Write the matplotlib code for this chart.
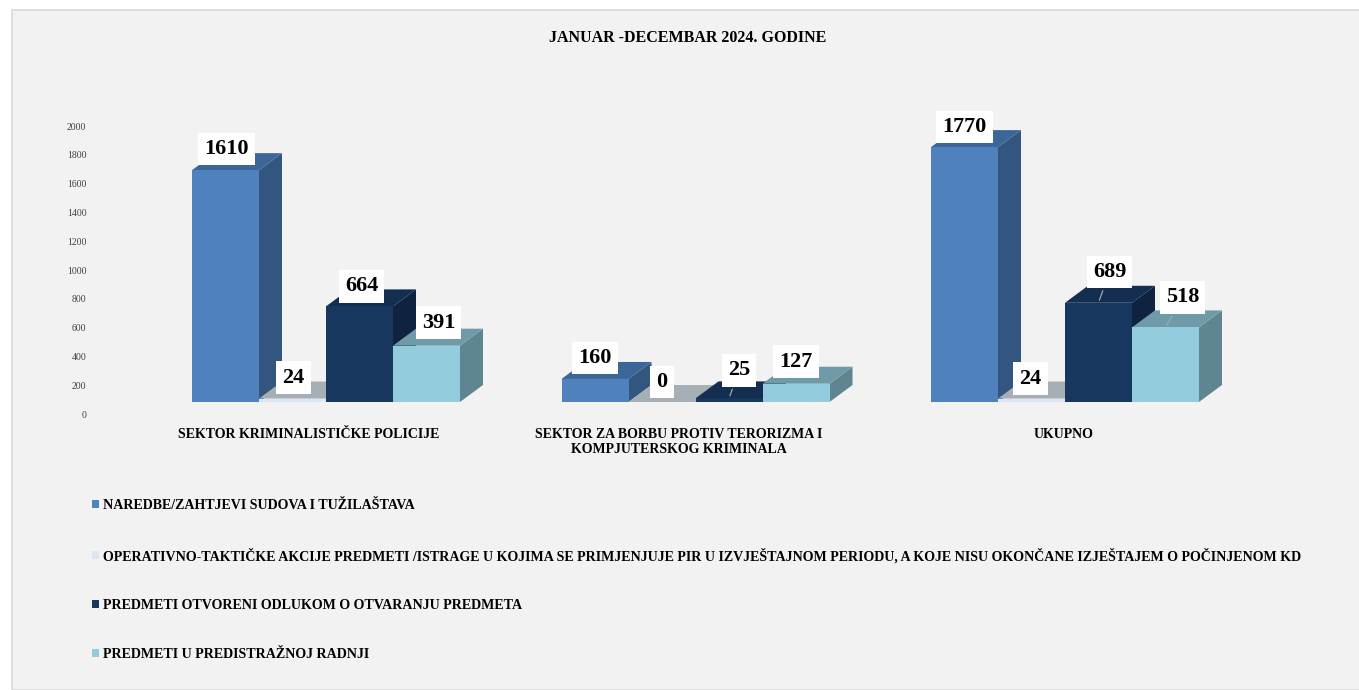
import matplotlib
matplotlib.use("Agg")
import matplotlib.pyplot as plt
import matplotlib.transforms as mtrans
from matplotlib.patches import Polygon, Patch, Rectangle

plt.rcParams['font.family'] = ['Liberation Serif', 'DejaVu Serif']

# data
title = "JANUAR -DECEMBAR 2024. GODINE"
categories = ["SEKTOR KRIMINALISTIČKE POLICIJE",
              "SEKTOR ZA BORBU PROTIV TERORIZMA I\nKOMPJUTERSKOG KRIMINALA",
              "UKUPNO"]
series_names = ["NAREDBE/ZAHTJEVI SUDOVA I TUŽILAŠTAVA",
                "OPERATIVNO-TAKTIČKE AKCIJE PREDMETI /ISTRAGE U KOJIMA SE PRIMJENJUJE PIR U IZVJEŠTAJNOM PERIODU, A KOJE NISU OKONČANE IZJEŠTAJEM O POČINJENOM KD",
                "PREDMETI OTVORENI ODLUKOM O OTVARANJU PREDMETA",
                "PREDMETI U PREDISTRAŽNOJ RADNJI"]
naredbe = [1610, 160, 1770]
operativno = [24, 0, 24]
otvoreni = [664, 25, 689]
predistrazni = [391, 127, 518]
series = [naredbe, operativno, otvoreni, predistrazni]

# colours: front, top, side
front_cols = ['#4f81bd', '#dce6f2', '#17375e', '#93cddd']
top_cols = ['#3c6698', '#a6aeb6', '#132e50', '#6e9ba7']
side_cols = ['#32567f', '#8d959c', '#0f2340', '#5f8690']

# label offsets in pixels (dx, dy) relative to front-top centre
label_off = [[(1, 21), (0, 21), (0, 20)],
             [(1, 21), (0, 20), (-1, 20)],
             [(2, 20), (10, 28), (11, 31)],
             [(12, 23), (0, 22), (17, 30)]]
leader = [[False, False, False], [False, False, False],
          [False, True, True], [False, False, True]]
cat_shift = [-17, -17, -1]  # px shift of category labels

W, H = 1359, 690
fig = plt.figure(figsize=(W / 100, H / 100), dpi=100)
fig.patch.set_facecolor('white')
fig.patches.append(Rectangle((12 / W, 0), 1, 1 - 10 / H, transform=fig.transFigure,
                             facecolor='#f2f2f2', edgecolor='#d9d9d9', lw=1.2, zorder=-10))

# axes in pixel layout
px_per_unit = 0.144
x0_px, y0_px = 326.0, 414.0
grp_px = 369.5
ax_l, ax_r, ax_t, ax_b = 92, 1340, 100, 425
ax = fig.add_axes([ax_l / W, 1 - ax_b / H, (ax_r - ax_l) / W, (ax_b - ax_t) / H])
ax.set_facecolor('none')
ax.set_xlim((ax_l - x0_px) / grp_px, (ax_r - x0_px) / grp_px)
ax.set_ylim((y0_px - ax_b) / px_per_unit, (y0_px - ax_t) / px_per_unit)
for s in ax.spines.values():
    s.set_visible(False)

bw = 67 / grp_px
dx = 23 / grp_px
dy = 17 / px_per_unit
floor = 12 / px_per_unit

z = 1
for i in range(len(categories)):
    for j, vals in enumerate(series):
        v = vals[i]
        xc = i + (j - 1.5) * bw
        xa, xb = xc - bw / 2, xc + bw / 2
        top = floor + v
        ax.add_patch(Polygon([(xb, floor), (xb + dx, floor + dy), (xb + dx, top + dy), (xb, top)],
                             closed=True, facecolor=side_cols[j], edgecolor='none', zorder=z))
        ax.add_patch(Polygon([(xa, top), (xb, top), (xb + dx, top + dy), (xa + dx, top + dy)],
                             closed=True, facecolor=top_cols[j], edgecolor='none', zorder=z))
        ax.bar(xc, v, bottom=floor, width=bw, color=front_cols[j], edgecolor='none', zorder=z + 0.5)
        z += 1

# value labels
for i in range(len(categories)):
    for j, vals in enumerate(series):
        v = vals[i]
        xc = i + (j - 1.5) * bw
        ox, oy = label_off[j][i]
        ap = dict(arrowstyle='-', color='#a6a6a6', lw=0.9) if leader[j][i] else None
        ax.annotate(str(v), xy=(xc, floor + v), xytext=(ox * 0.72, oy * 0.72),
                    textcoords='offset points', ha='center', va='center',
                    fontsize=16, fontweight='bold', color='black', zorder=100,
                    bbox=dict(boxstyle='square,pad=0.28', facecolor='white', edgecolor='none'),
                    arrowprops=ap)

ax.set_yticks(range(0, 2001, 200))
ax.tick_params(axis='y', length=0, pad=4, labelsize=7, labelcolor='#404040')
ax.set_xticks(range(len(categories)))
ax.set_xticklabels(categories, fontsize=10, fontweight='bold')
ax.tick_params(axis='x', length=0, pad=2)
for lab, sh in zip(ax.get_xticklabels(), cat_shift):
    lab.set_transform(lab.get_transform() + mtrans.ScaledTranslation(sh / 100, 0, fig.dpi_scale_trans))

fig.text(688 / W, 1 - 38 / H, title, ha='center', va='center', fontsize=11.5, fontweight='bold')

handles = [Patch(facecolor=c, edgecolor='none') for c in front_cols]
fig.legend(handles, series_names, loc='upper left', bbox_to_anchor=(92 / W, 1 - 499 / H),
           frameon=False, prop={'weight': 'bold', 'size': 10.1},
           handlelength=0.5, handleheight=0.5, handletextpad=0.3,
           labelspacing=2.55, borderpad=0, borderaxespad=0)

fig.savefig('out.png', dpi=100, facecolor='white')
